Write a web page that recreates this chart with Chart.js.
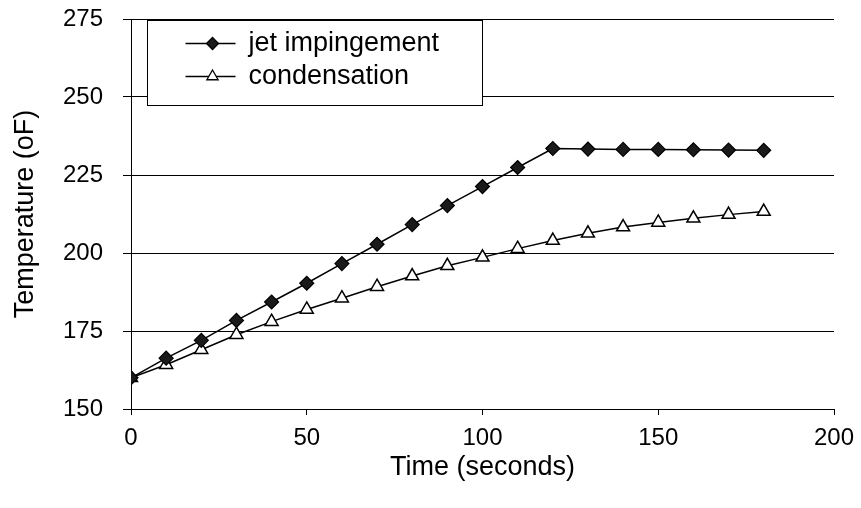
<!DOCTYPE html>
<html>
<head>
<meta charset="utf-8">
<script src="https://cdn.jsdelivr.net/npm/chart.js@4/dist/chart.umd.min.js"></script>
<style>
  html, body { margin: 0; padding: 0; background: #fff; }
  #wrap { width: 861px; height: 508px; }
</style>
</head>
<body>
<div id="wrap"><canvas id="chart" width="861" height="508"></canvas></div>
<script>
// Heating curves: temperature vs. time for the two heating methods
const timeSeconds = [0, 10, 20, 30, 40, 50, 60, 70, 80, 90, 100, 110, 120, 130, 140, 150, 160, 170, 180];
const jetImpingement = [160, 166.3, 172, 178.4, 184.3, 190.3, 196.6, 202.8, 209.1, 215.2, 221.3, 227.4, 233.5, 233.3, 233.2, 233.2, 233.1, 233.0, 232.9];
const condensation = [160, 164.2, 169, 173.8, 178, 181.9, 185.5, 189.2, 192.6, 195.9, 198.6, 201.4, 204, 206.3, 208.3, 209.8, 211.1, 212.3, 213.3];
const seriesNames = ['jet impingement', 'condensation'];
const xTicks = [0, 50, 100, 150, 200];
const yTicks = [150, 175, 200, 225, 250, 275];

const FONT = '"Liberation Sans", Arial, Helvetica, sans-serif';

function toPoints(xs, ys) {
  return xs.map((x, i) => ({ x: x, y: ys[i] }));
}

// Boxed legend drawn inside the plot area, over the gridlines
const boxedLegend = {
  id: 'boxedLegend',
  afterDraw(chart) {
    const ctx = chart.ctx;
    const area = chart.chartArea;
    const left = area.left + 16.5;
    const top = area.top + 1.5;
    const w = 335, h = 85;
    ctx.save();
    ctx.fillStyle = '#fff';
    ctx.fillRect(left, top, w, h);
    ctx.strokeStyle = '#000';
    ctx.lineWidth = 1;
    ctx.strokeRect(left, top, w, h);

    const rows = [top + 23, top + 56];
    chart.data.datasets.forEach((ds, i) => {
      const y = rows[i];
      const x0 = left + 38, x1 = left + 88, xm = left + 65;
      ctx.strokeStyle = '#000';
      ctx.lineWidth = 1.5;
      ctx.beginPath();
      ctx.moveTo(x0, y);
      ctx.lineTo(x1, y);
      ctx.stroke();
      ctx.lineWidth = 1.3;
      ctx.beginPath();
      if (ds.pointStyle === 'rectRot') {
        const r = 6;
        ctx.moveTo(xm, y - r);
        ctx.lineTo(xm + r, y);
        ctx.lineTo(xm, y + r);
        ctx.lineTo(xm - r, y);
        ctx.closePath();
        ctx.fillStyle = ds.pointBackgroundColor;
        ctx.fill();
        ctx.stroke();
      } else {
        const r = 6.5;
        ctx.moveTo(xm, y - r);
        ctx.lineTo(xm + r * 0.866, y + r * 0.5);
        ctx.lineTo(xm - r * 0.866, y + r * 0.5);
        ctx.closePath();
        ctx.fillStyle = ds.pointBackgroundColor;
        ctx.fill();
        ctx.stroke();
      }
      ctx.fillStyle = '#000';
      ctx.font = '27px ' + FONT;
      ctx.textAlign = 'left';
      ctx.textBaseline = 'middle';
      ctx.fillText(ds.label, left + 101, y);
    });
    ctx.restore();
  }
};

new Chart(document.getElementById('chart'), {
  type: 'line',
  data: {
    datasets: [
      {
        label: seriesNames[0],
        data: toPoints(timeSeconds, jetImpingement),
        borderColor: '#000',
        borderWidth: 1.5,
        pointStyle: 'rectRot',
        pointRadius: 7,
        pointBackgroundColor: '#1a1a1a',
        pointBorderColor: '#000',
        pointBorderWidth: 1.2,
        tension: 0
      },
      {
        label: seriesNames[1],
        data: toPoints(timeSeconds, condensation),
        borderColor: '#000',
        borderWidth: 1.5,
        pointStyle: 'triangle',
        pointRadius: 7.5,
        pointBackgroundColor: '#fff',
        pointBorderColor: '#000',
        pointBorderWidth: 1.5,
        tension: 0
      }
    ]
  },
  options: {
    responsive: false,
    animation: false,
    devicePixelRatio: 1,
    layout: { padding: { top: 19, right: 27, left: 0, bottom: 0 } },
    plugins: {
      legend: { display: false },
      tooltip: { enabled: false }
    },
    scales: {
      x: {
        type: 'linear',
        min: 0,
        max: 200,
        afterBuildTicks(scale) { scale.ticks = xTicks.map(v => ({ value: v })); },
        afterFit(scale) {
          scale.height = 99;
          scale.paddingLeft = 0;
          scale.paddingRight = 0;
        },
        grid: { drawOnChartArea: false, drawTicks: true, tickLength: 6, color: '#000', lineWidth: 1 },
        border: { display: true, color: '#000', width: 1 },
        ticks: { color: '#000', font: { family: FONT, size: 24 }, padding: 9, maxRotation: 0 },
        title: {
          display: true,
          text: 'Time (seconds)',
          color: '#000',
          font: { family: FONT, size: 27 },
          padding: { top: 0, bottom: 24 }
        }
      },
      y: {
        type: 'linear',
        min: 150,
        max: 275,
        afterBuildTicks(scale) { scale.ticks = yTicks.map(v => ({ value: v })); },
        afterFit(scale) {
          scale.width = 131;
          scale.paddingTop = 0;
          scale.paddingBottom = 0;
        },
        grid: { drawOnChartArea: true, drawTicks: true, tickLength: 8, color: '#000', lineWidth: 1 },
        border: { display: true, color: '#000', width: 1 },
        ticks: { color: '#000', font: { family: FONT, size: 24 }, padding: 20 },
        title: {
          display: true,
          text: 'Temperature (oF)',
          color: '#000',
          font: { family: FONT, size: 27 },
          padding: { top: 9, bottom: 0 }
        }
      }
    }
  },
  plugins: [boxedLegend]
});
</script>
</body>
</html>
